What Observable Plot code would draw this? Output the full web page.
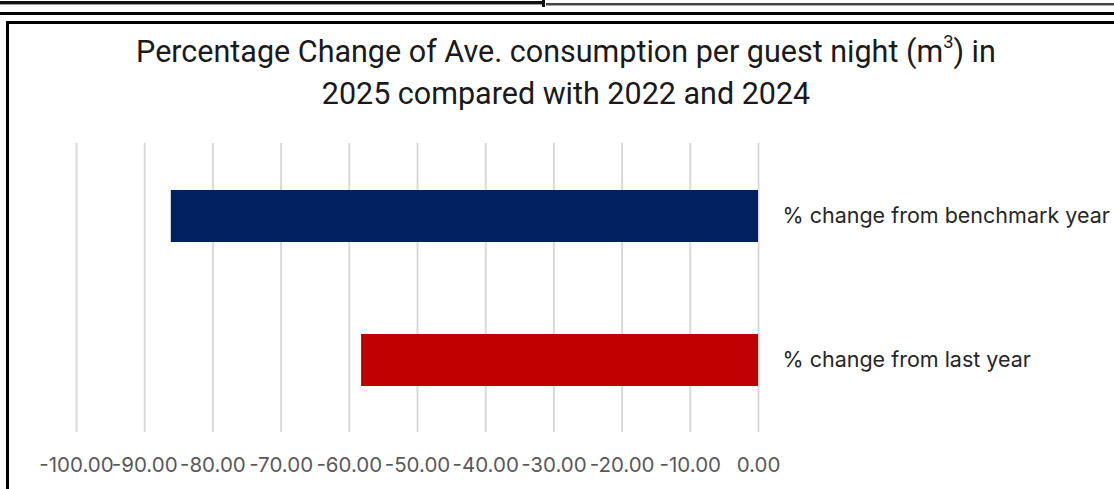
<!DOCTYPE html>
<html>
<head>
<meta charset="utf-8">
<script src="https://cdn.jsdelivr.net/npm/d3@7"></script>
<script src="https://cdn.jsdelivr.net/npm/@observablehq/plot@0.6"></script>
<style>
  html, body { margin: 0; padding: 0; background: #fff; width: 1114px; height: 489px; overflow: hidden; position: relative; }
  .deco { position: absolute; z-index: 5; }
  #title { position: absolute; left: 0; top: 31px; width: 1132px; text-align: center;
           font-family: "Roboto", sans-serif; font-size: 30.5px; line-height: 42px; color: #1a1a1a; z-index: 4; }
  #title sup { font-size: 0.6em; line-height: 0; vertical-align: 0.75em; }
  #chart { position: absolute; left: 0; top: 120px; z-index: 3; }
</style>
</head>
<body>
<div class="deco" style="left:0;top:1px;width:542px;height:3px;background:#111;border-bottom:1px solid #999;"></div>
<div class="deco" style="left:542px;top:0;width:3px;height:7px;background:#111;"></div>
<div class="deco" style="left:546px;top:3px;width:568px;height:2px;background:#444;border-bottom:1px solid #aaa;"></div>
<div class="deco" style="left:0;top:12px;width:1114px;height:3px;background:#000;"></div>
<div class="deco" style="left:6px;top:21px;width:1200px;height:600px;border-left:3px solid #000;border-top:3px solid #000;box-sizing:border-box;"></div>
<div id="title">Percentage Change of Ave. consumption per guest night (m<sup>3</sup>) in<br>2025 compared with 2022 and 2024</div>
<div id="chart"></div>
<script>
// ---- data ----
const categories = ["% change from benchmark year", "% change from last year"];
const values = [-86.1, -58.2];
const xTicks = [-100, -90, -80, -70, -60, -50, -40, -30, -20, -10, 0];

// ---- styles ----
const barColors = ["#002060", "#C00000"];

const data = categories.map((c, i) => ({category: c, value: values[i]}));

const chart = Plot.plot({
  width: 1114,
  height: 369,
  marginTop: 23,
  marginBottom: 57,
  marginLeft: 76,
  marginRight: 356,
  style: {fontFamily: "Inter, sans-serif", background: "transparent", overflow: "visible"},
  x: {domain: [-100, 0]},
  y: {domain: categories, paddingInner: 0.64, paddingOuter: 0.32},
  color: {domain: categories, range: barColors},
  marks: [
    Plot.gridX(xTicks, {stroke: "#d9d9d9", strokeOpacity: 1, strokeWidth: 2}),
    Plot.barX(data, {x: "value", y: "category", fill: "category"}),
    Plot.axisX({ticks: xTicks, tickFormat: d => d.toFixed(2), tickSize: 0, tickPadding: 25,
                fontSize: 20.5, fontVariant: "normal", color: "#595959", label: null}),
    Plot.axisY({anchor: "right", tickSize: 0, tickPadding: 24, fontSize: 21.5, color: "#262626", label: null})
  ]
});
document.getElementById("chart").appendChild(chart);
</script>
</body>
</html>
